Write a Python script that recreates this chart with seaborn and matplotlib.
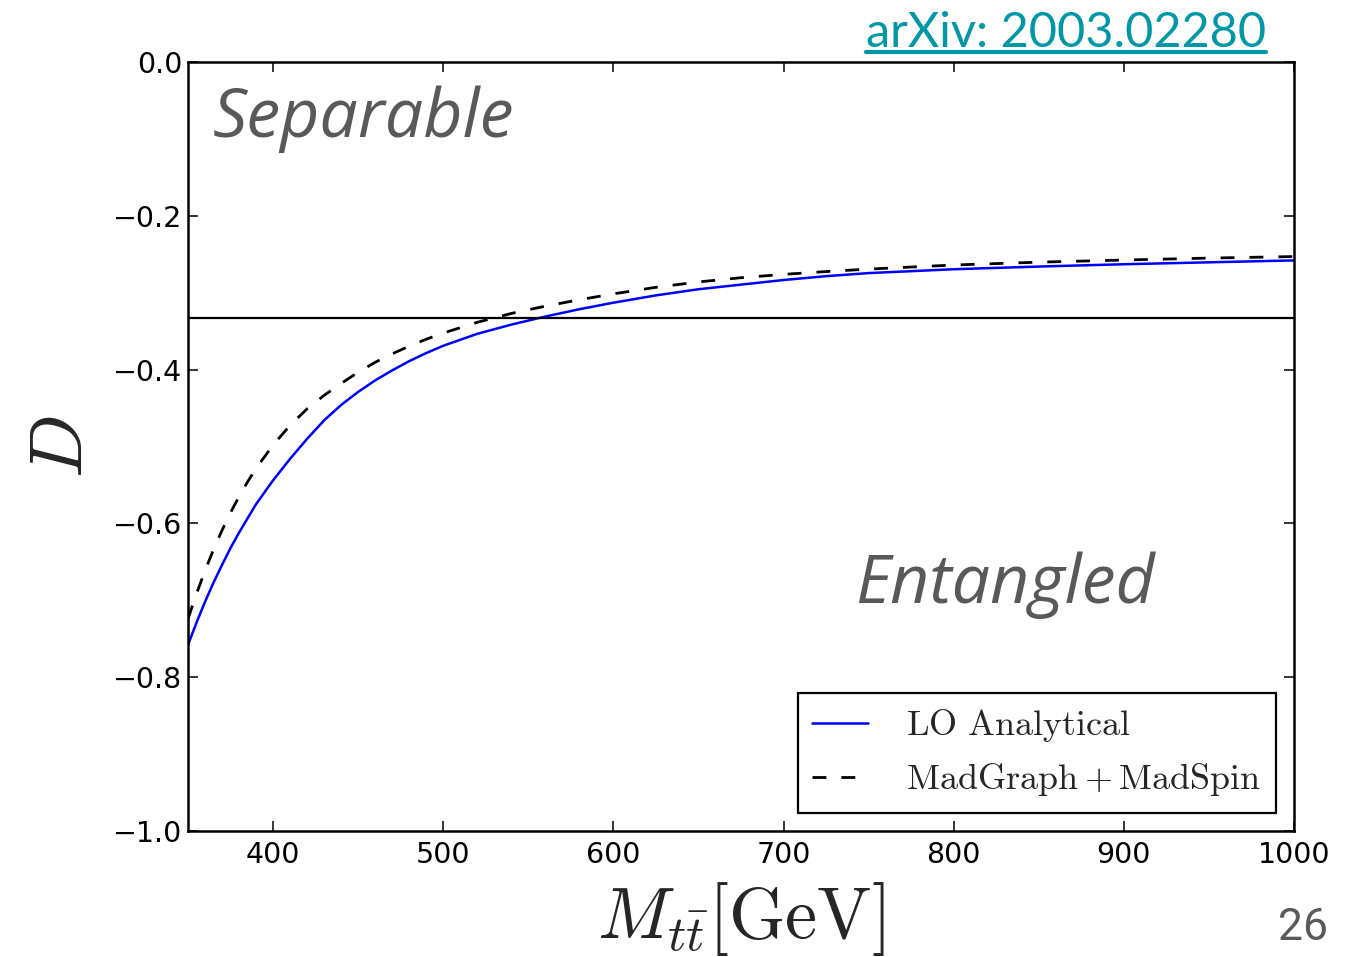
import matplotlib
matplotlib.use("Agg")
import matplotlib.pyplot as plt
from matplotlib.lines import Line2D
import numpy as np
import pandas as pd
import seaborn as sns

# LO analytical prediction of D versus the top-pair invariant mass
mass_lo = [350, 355, 360, 365, 370, 375, 380, 390, 400, 410, 420, 430, 440,
           450, 460, 470, 480, 490, 500, 520, 540, 560, 580, 600, 625, 650,
           675, 700, 725, 750, 800, 850, 900, 950, 1000]
d_lo = [-0.758, -0.729, -0.702, -0.677, -0.654, -0.632, -0.612, -0.575,
        -0.544, -0.516, -0.490, -0.466, -0.446, -0.429, -0.414, -0.401,
        -0.389, -0.3785, -0.369, -0.3535, -0.3415, -0.331, -0.3215, -0.313,
        -0.3035, -0.2955, -0.2895, -0.2835, -0.2785, -0.2745, -0.2695,
        -0.266, -0.263, -0.2605, -0.258]

# MadGraph + MadSpin simulation
mass_mg = [350, 355, 360, 365, 370, 375, 380, 385, 390, 400, 410, 420, 430,
           440, 450, 460, 470, 480, 490, 500, 520, 540, 560, 580, 600, 625,
           650, 675, 700, 725, 750, 800, 850, 900, 950, 1000]
d_mg = [-0.724, -0.6915, -0.6615, -0.634, -0.609, -0.586, -0.565, -0.546,
        -0.5285, -0.498, -0.4725, -0.451, -0.4335, -0.418, -0.4035, -0.3905,
        -0.3795, -0.3695, -0.3605, -0.3525, -0.3385, -0.327, -0.3175,
        -0.3092, -0.3015, -0.293, -0.286, -0.2805, -0.2762, -0.2725,
        -0.2693, -0.264, -0.2603, -0.2575, -0.255, -0.253]

# entanglement threshold D = -1/3
threshold = -1.0 / 3.0

x_ticks = [400, 500, 600, 700, 800, 900, 1000]
y_ticks = [0.0, -0.2, -0.4, -0.6, -0.8, -1.0]

label_lo = r"$\mathrm{LO\ Analytical}$"
label_mg = r"$\mathrm{MadGraph}+\mathrm{MadSpin}$"

df_lo = pd.DataFrame({"mass": mass_lo, "D": d_lo})
df_mg = pd.DataFrame({"mass": mass_mg, "D": d_mg})

sns.set_theme(style="ticks")
plt.rcParams["font.family"] = ["DejaVu Sans"]
plt.rcParams["mathtext.fontset"] = "cm"

W, H = 1361, 957
fig = plt.figure(figsize=(W / 100, H / 100), dpi=100)
fig.patch.set_facecolor("white")
ax = fig.add_axes([188 / W, 1 - 831 / H, (1294 - 188) / W, (831 - 62) / H])
ax.set_facecolor("white")

sns.lineplot(data=df_lo, x="mass", y="D", ax=ax, color="#0000ff",
             linewidth=1.8, label=label_lo)
sns.lineplot(data=df_mg, x="mass", y="D", ax=ax, color="black",
             linewidth=2.0, label=label_mg)
ax.lines[1].set_linestyle((0, (5.0, 5.4)))
ax.axhline(threshold, color="black", linewidth=1.6)

ax.set_xlim(350, 1000)
ax.set_ylim(-1.0, 0.0)
ax.set_xticks(x_ticks)
ax.set_yticks(y_ticks)
ax.set_yticklabels([f"{v:.1f}".replace("-", "\u2212") for v in y_ticks])

for s in ax.spines.values():
    s.set_visible(True)
    s.set_color("black")
    s.set_linewidth(1.8)

ax.tick_params(direction="in", top=True, right=True, length=7, width=1.1,
               colors="black", labelsize=20.5)
ax.tick_params(axis="x", pad=7)
ax.tick_params(axis="y", pad=4)

ax.set_xlabel(r"$M_{t\bar{t}}[\mathrm{GeV}]$", fontsize=52, labelpad=8)
ax.set_ylabel(r"$D$", fontsize=54, labelpad=11)

leg = ax.legend(loc="lower right", frameon=True, fancybox=False,
                edgecolor="black", framealpha=1, fontsize=26,
                handlelength=1.55, handletextpad=1.05, borderpad=0.4,
                labelspacing=0.48, borderaxespad=0.5)
leg.get_frame().set_linewidth(1.6)

region_style = dict(family="Open Sans", style="italic", color="#595959",
                    fontsize=49, va="baseline", ha="left",
                    transform=ax.transAxes)
ax.text(0.0226, 0.9025, "Separable", **region_style)
ax.text(0.603, 0.2965, "Entangled", **region_style)

link = fig.text(1266 / W, 1 - 47 / H, "arXiv: 2003.02280", family="Lato",
                color="#0097a7", fontsize=35, ha="right", va="baseline")
fig.text(1328 / W, 1 - 940 / H, "26", family="Roboto", color="#5a5a5a",
         fontsize=32, ha="right", va="baseline")

# underline for the reference link
fig.canvas.draw()
bb = link.get_window_extent()
y_ul = (H - 52) / H
fig.add_artist(Line2D([bb.x0 / W, bb.x1 / W], [y_ul, y_ul],
                      transform=fig.transFigure, color="#0097a7",
                      linewidth=3.0))

fig.savefig("out.png", dpi=100, facecolor="white")
